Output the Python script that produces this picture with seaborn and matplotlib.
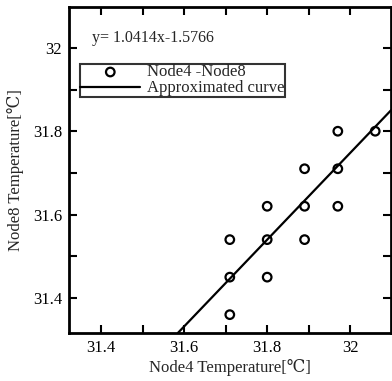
import matplotlib
matplotlib.use("Agg")
import matplotlib.pyplot as plt
import seaborn as sns
import numpy as np
import pandas as pd
from matplotlib.ticker import MultipleLocator

# data
node4 = [31.71, 31.71, 31.71, 31.80, 31.80, 31.80, 31.89, 31.89, 31.89, 31.97, 31.97, 31.97, 32.06]
node8 = [31.36, 31.45, 31.54, 31.45, 31.54, 31.62, 31.54, 31.62, 31.71, 31.62, 31.71, 31.80, 31.80]
slope = 1.0414
intercept = -1.5766
x_ticks = [31.4, 31.6, 31.8, 32.0]
x_ticklabels = ["31.4", "31.6", "31.8", "32"]
y_ticks = [31.4, 31.6, 31.8, 32.0]
y_ticklabels = ["31.4", "31.6", "31.8", "32"]

sns.set_style("ticks")
plt.rcParams['font.family'] = ['Liberation Serif', 'DejaVu Serif']
plt.rcParams['mathtext.fontset'] = 'stix'

fig = plt.figure(figsize=(3.92, 3.81), dpi=100)
ax = fig.add_axes([69/392, 48/381, 322/392, 326/381])

xlim = (31.323, 32.098)
ylim = (31.316, 32.098)

df = pd.DataFrame({"x": node4, "y": node8})
sns.scatterplot(data=df, x="x", y="y", ax=ax, marker="o", s=38,
                facecolors="none", edgecolor="black", linewidth=1.6,
                label="Node4 -Node8", zorder=3)

x_start = (ylim[0] - intercept) / slope
line_x = np.array([x_start, xlim[1]])
line_df = pd.DataFrame({"x": line_x, "y": slope * line_x + intercept})
sns.lineplot(data=line_df, x="x", y="y", ax=ax, color="black", linewidth=1.6,
             label="Approximated curve")

ax.set_xlim(*xlim)
ax.set_ylim(*ylim)
ax.set_xticks(x_ticks)
ax.set_xticklabels(x_ticklabels)
ax.set_yticks(y_ticks)
ax.set_yticklabels(y_ticklabels)
ax.xaxis.set_minor_locator(MultipleLocator(0.1))
ax.yaxis.set_minor_locator(MultipleLocator(0.1))
ax.tick_params(which="both", direction="in", top=True, right=True, width=1.5,
               labelsize=12, colors="black", pad=5)
ax.tick_params(which="major", length=6)
ax.tick_params(which="minor", length=6)
for s in ax.spines.values():
    s.set_visible(True)
    s.set_linewidth(2)
    s.set_color("black")

ax.set_xlabel("Node4 Temperature[℃]", fontsize=12, labelpad=2)
ax.set_ylabel("Node8 Temperature[℃]", fontsize=12, labelpad=6)

ax.text(0.07, 0.905, "y= 1.0414x-1.5766", transform=ax.transAxes, fontsize=11.5,
        ha="left", va="center")

leg = ax.legend(loc="upper left", bbox_to_anchor=(0.034, 0.825), fontsize=12,
                frameon=True, fancybox=False, borderpad=0.02, handlelength=3.6,
                handletextpad=0.4, labelspacing=0.0, borderaxespad=0)
leg.get_frame().set_edgecolor("black")
leg.get_frame().set_linewidth(1.5)

fig.savefig("out.png", dpi=100)
